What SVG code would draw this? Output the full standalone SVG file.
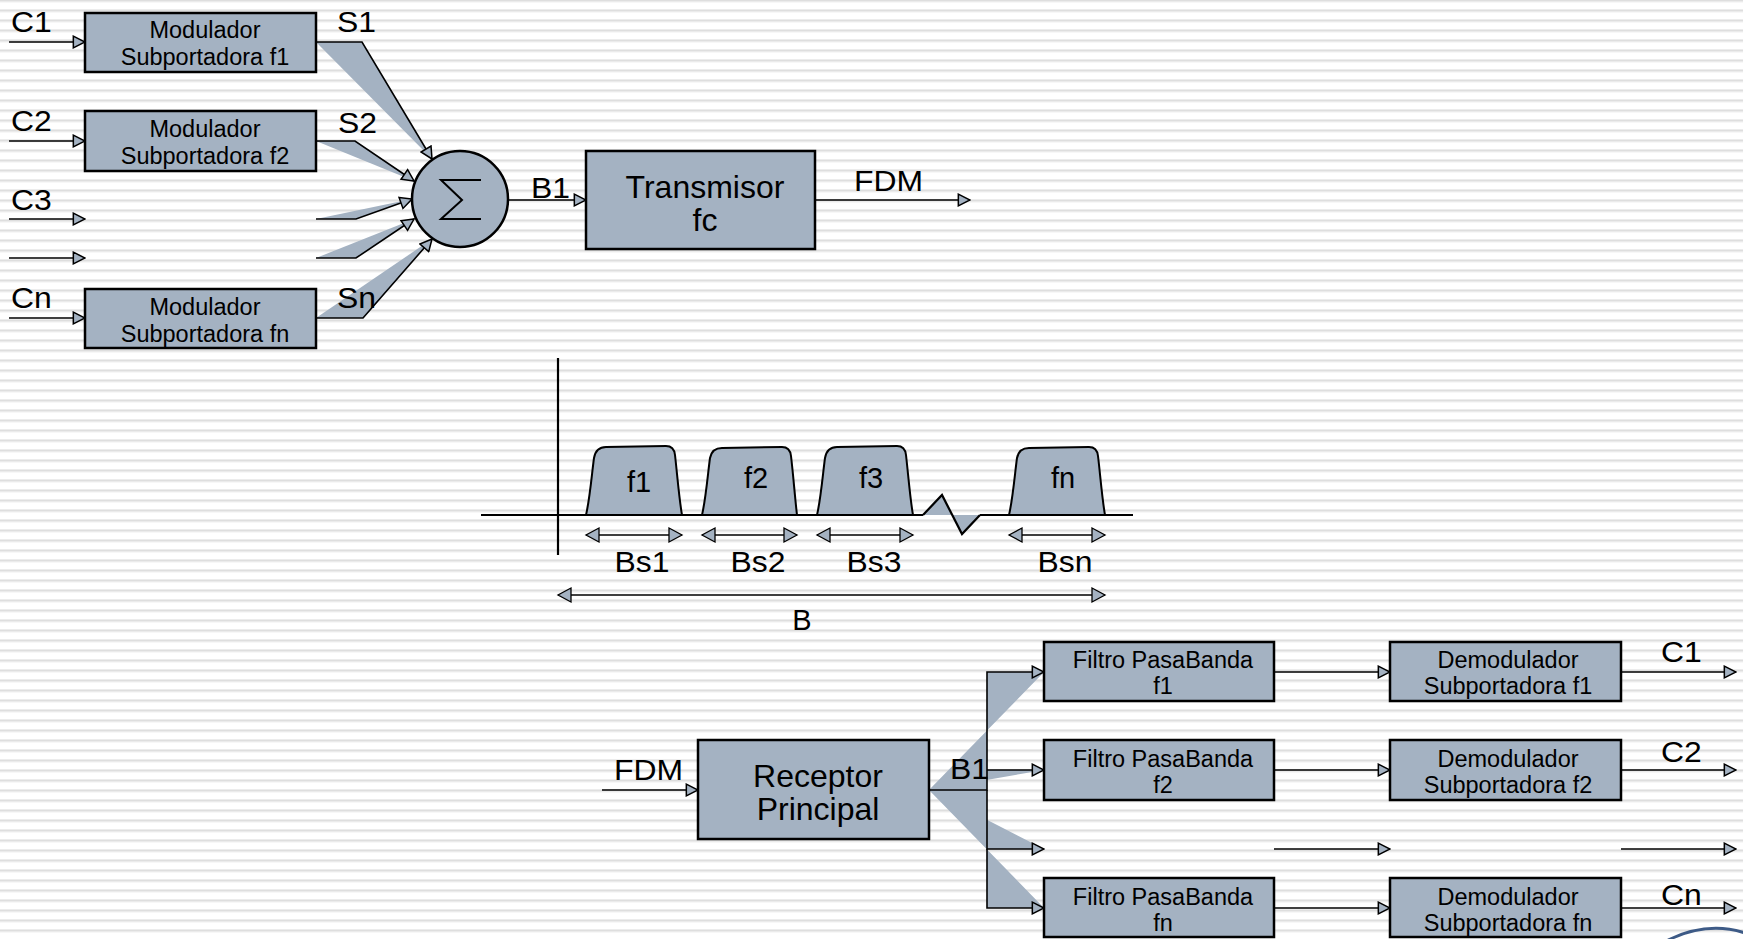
<svg xmlns="http://www.w3.org/2000/svg" width="1743" height="939" viewBox="0 0 1743 939">
<defs>
<pattern id="stripes" width="40" height="10" patternUnits="userSpaceOnUse" y="9">
<rect width="40" height="10" fill="#ffffff"/>
<rect y="0" width="40" height="1" fill="#ececec"/>
<rect y="1" width="40" height="1.6" fill="#dedede"/>
<rect y="2.6" width="40" height="0.8" fill="#ececec"/>
</pattern>
<marker id="ah" markerUnits="userSpaceOnUse" markerWidth="14" markerHeight="14" viewBox="-1 -1 12 12" refX="10" refY="5" orient="auto">
<path d="M0,0 L10,5 L0,10 Z" fill="#a4b2c2" stroke="#000" stroke-width="1.3"/>
</marker>
<marker id="ahb" markerUnits="userSpaceOnUse" markerWidth="16" markerHeight="18" viewBox="-1 -1 16 18" refX="13" refY="8" orient="auto-start-reverse">
<path d="M0,1 L13,8 L0,15 Z" fill="#a4b2c2" stroke="#000" stroke-width="1.3"/>
</marker>
<style>
.box{fill:#a4b2c2;stroke:#000;stroke-width:2.5}
.t{font-family:"Liberation Sans",Arial,Helvetica,sans-serif;fill:#000}
.small{font-size:23.5px;text-anchor:middle}
.big{font-size:32px;text-anchor:middle}
.lbl{font-size:29px}
.lblc{font-size:29px;text-anchor:middle}
.ln{fill:none;stroke:#000;stroke-width:1.6}
.arr{fill:none;stroke:#000;stroke-width:1.6;marker-end:url(#ah)}
.wedge{fill:#a4b2c2;stroke:none}
.hump{fill:#a4b2c2;stroke:#000;stroke-width:2}
.axis{fill:none;stroke:#000;stroke-width:2.2}
.dbl{fill:none;stroke:#000;stroke-width:1.6;marker-start:url(#ahb);marker-end:url(#ahb)}
</style>
</defs>
<rect width="1743" height="939" fill="url(#stripes)"/>

<g id="connectors">
<path class="wedge" d="M316,42 L362,42 L432,159"/>
<path class="wedge" d="M316,141 L355,141 L414,181"/>
<path class="wedge" d="M316,219 L356,219 L412,199"/>
<path class="wedge" d="M316,258 L356,258 L414,219"/>
<path class="wedge" d="M316,318 L363,318 L432,239"/>
<path class="wedge" d="M929,790 L987,790 L987,672 L1044,672"/>
<path class="wedge" d="M929,790 L987,790 L987,770 L1044,770"/>
<path class="wedge" d="M929,790 L987,790 L987,849 L1044,849"/>
<path class="wedge" d="M929,790 L987,790 L987,908 L1044,908"/>
<path class="arr" d="M9,42 L85,42"/>
<path class="arr" d="M9,141 L85,141"/>
<path class="arr" d="M9,219 L85,219"/>
<path class="arr" d="M9,258 L85,258"/>
<path class="arr" d="M9,318 L85,318"/>
<path class="arr" d="M316,42 L362,42 L432,159"/>
<path class="arr" d="M316,141 L355,141 L414,181"/>
<path class="arr" d="M316,219 L356,219 L412,199"/>
<path class="arr" d="M316,258 L356,258 L414,219"/>
<path class="arr" d="M316,318 L363,318 L432,239"/>
<path class="arr" d="M508,200 L586,200"/>
<path class="arr" d="M815,200 L970,200"/>
<path class="arr" d="M602,790 L698,790"/>
<path class="arr" d="M929,790 L987,790 L987,672 L1044,672"/>
<path class="arr" d="M987,770 L1044,770"/>
<path class="arr" d="M987,790 L987,849 L1044,849"/>
<path class="arr" d="M987,849 L987,908 L1044,908"/>
<path class="arr" d="M1274,672 L1390,672"/>
<path class="arr" d="M1274,770 L1390,770"/>
<path class="arr" d="M1274,849 L1390,849"/>
<path class="arr" d="M1274,908 L1390,908"/>
<path class="arr" d="M1621,672 L1736,672"/>
<path class="arr" d="M1621,770 L1736,770"/>
<path class="arr" d="M1621,849 L1736,849"/>
<path class="arr" d="M1621,908 L1736,908"/>
</g>

<g id="labels">
<text class="t lbl" transform="matrix(1.1 0 0 1 11 32)">C1</text>
<text class="t lbl" transform="matrix(1.1 0 0 1 11 131)">C2</text>
<text class="t lbl" transform="matrix(1.1 0 0 1 11 210)">C3</text>
<text class="t lbl" transform="matrix(1.1 0 0 1 11 308)">Cn</text>
<text class="t lbl" transform="matrix(1.1 0 0 1 337 32)">S1</text>
<text class="t lbl" transform="matrix(1.1 0 0 1 338 133)">S2</text>
<text class="t lbl" transform="matrix(1.1 0 0 1 337 308)">Sn</text>
<text class="t lbl" transform="matrix(1.1 0 0 1 531 198)">B1</text>
<text class="t lbl" transform="matrix(1.1 0 0 1 854 191)">FDM</text>
<text class="t lbl" transform="matrix(1.1 0 0 1 614 780)">FDM</text>
<text class="t lbl" transform="matrix(1.1 0 0 1 950 779)">B1</text>
<text class="t lbl" transform="matrix(1.1 0 0 1 1661 662)">C1</text>
<text class="t lbl" transform="matrix(1.1 0 0 1 1661 762)">C2</text>
<text class="t lbl" transform="matrix(1.1 0 0 1 1661 905)">Cn</text>
</g>

<g id="mod1">
<rect class="box" x="85" y="13" width="231" height="59"/>
<text class="t small" x="205" y="38">Modulador</text>
<text class="t small" x="205" y="65">Subportadora f1</text>
</g>
<g id="mod2">
<rect class="box" x="85" y="111" width="231" height="60"/>
<text class="t small" x="205" y="137">Modulador</text>
<text class="t small" x="205" y="164">Subportadora f2</text>
</g>
<g id="modn">
<rect class="box" x="85" y="289" width="231" height="59"/>
<text class="t small" x="205" y="315">Modulador</text>
<text class="t small" x="205" y="342">Subportadora fn</text>
</g>
<g id="summer">
<circle cx="460" cy="199" r="48" fill="#a4b2c2" stroke="#000" stroke-width="2.5"/>
<path d="M481,180 L441,180 L462,200 L441,219 L481,219" fill="none" stroke="#000" stroke-width="2"/>
</g>
<g id="transmisor">
<rect class="box" x="586" y="151" width="229" height="98"/>
<text class="t big" x="705" y="198">Transmisor</text>
<text class="t big" x="705" y="231">fc</text>
</g>

<g id="spectrum">
<path class="axis" d="M558,358 L558,555"/>
<path class="axis" d="M481,515 L923,515 M980,515 L1133,515"/>
<path d="M923,515 L942,495 L962,534 L980,515 Z" fill="#a4b2c2" stroke="none"/>
<path d="M923,515 L942,495 L962,534 L980,515" fill="none" stroke="#000" stroke-width="2.2"/>
<path class="hump" d="M586,515 C590,498 592,472 594,458 Q596,447 606,447 L666,446 Q674,446 675,455 C677,472 679,498 682,515 Z"/>
<path class="hump" d="M702,515 C706,498 708,472 710,458 Q712,448 722,448 L782,447 Q790,447 791,456 C793,472 795,498 797,515 Z"/>
<path class="hump" d="M817,515 C821,498 823,472 825,458 Q827,447 837,447 L897,446 Q905,446 906,455 C908,472 910,498 913,515 Z"/>
<path class="hump" d="M1009,515 C1013,498 1015,472 1017,458 Q1019,448 1029,448 L1089,447 Q1097,447 1098,456 C1100,472 1102,498 1105,515 Z"/>
<text class="t lblc" x="639" y="492">f1</text>
<text class="t lblc" x="756" y="488">f2</text>
<text class="t lblc" x="871" y="488">f3</text>
<text class="t lblc" x="1063" y="488">fn</text>
<path class="dbl" d="M586,535 L682,535"/>
<path class="dbl" d="M702,535 L797,535"/>
<path class="dbl" d="M817,535 L913,535"/>
<path class="dbl" d="M1009,535 L1105,535"/>
<text class="t lblc" transform="matrix(1.1 0 0 1 642 572)">Bs1</text>
<text class="t lblc" transform="matrix(1.1 0 0 1 758 572)">Bs2</text>
<text class="t lblc" transform="matrix(1.1 0 0 1 874 572)">Bs3</text>
<text class="t lblc" transform="matrix(1.1 0 0 1 1065 572)">Bsn</text>
<path class="dbl" d="M558,595 L1105,595"/>
<text class="t lblc" x="802" y="630">B</text>
</g>

<g id="receptor">
<rect class="box" x="698" y="740" width="231" height="99"/>
<text class="t big" x="818" y="787">Receptor</text>
<text class="t big" x="818" y="820">Principal</text>
</g>
<g id="filtro1">
<rect class="box" x="1044" y="642" width="230" height="59"/>
<text class="t small" x="1163" y="668">Filtro PasaBanda</text>
<text class="t small" x="1163" y="694">f1</text>
</g>
<g id="filtro2">
<rect class="box" x="1044" y="740" width="230" height="60"/>
<text class="t small" x="1163" y="767">Filtro PasaBanda</text>
<text class="t small" x="1163" y="793">f2</text>
</g>
<g id="filtron">
<rect class="box" x="1044" y="878" width="230" height="59"/>
<text class="t small" x="1163" y="905">Filtro PasaBanda</text>
<text class="t small" x="1163" y="931">fn</text>
</g>
<g id="demod1">
<rect class="box" x="1390" y="642" width="231" height="59"/>
<text class="t small" x="1508" y="668">Demodulador</text>
<text class="t small" x="1508" y="694">Subportadora f1</text>
</g>
<g id="demod2">
<rect class="box" x="1390" y="740" width="231" height="60"/>
<text class="t small" x="1508" y="767">Demodulador</text>
<text class="t small" x="1508" y="793">Subportadora f2</text>
</g>
<g id="demodn">
<rect class="box" x="1390" y="878" width="231" height="59"/>
<text class="t small" x="1508" y="905">Demodulador</text>
<text class="t small" x="1508" y="931">Subportadora fn</text>
</g>
<g id="logo">
<path d="M1668,940 Q1708,921 1745,933" fill="none" stroke="#3d5a86" stroke-width="3"/>
</g>
</svg>
